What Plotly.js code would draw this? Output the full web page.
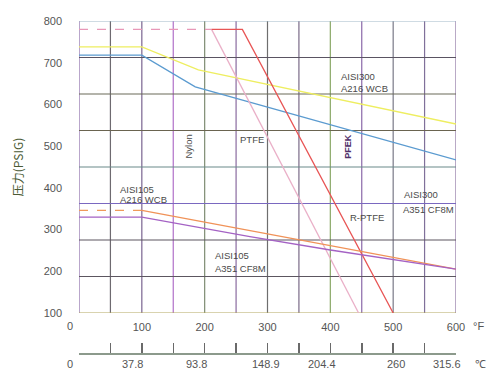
<!DOCTYPE html>
<html>
<head>
<meta charset="utf-8">
<script src="https://cdn.plot.ly/plotly-3.0.1.min.js"></script>
<style>html,body{margin:0;padding:0;background:#fff;}#chart{width:500px;height:383px;}</style>
</head>
<body>
<div id="chart"></div>
<script>
// ---- data (temperature °F, pressure PSIG) ----
const yellowF = [0, 100, 190, 600];
const yellowP = [738, 738, 683, 553];
const blueF = [0, 100, 185, 400, 600];
const blueP = [718, 718, 642, 551, 467];
const ptfeDashF = [0, 211];
const ptfeDashP = [780, 780];
const ptfeF = [211, 445];
const ptfeP = [780, 100];
const rptfeF = [211, 260, 500];
const rptfeP = [780, 780, 100];
const orangeDashF = [0, 100];
const orangeDashP = [346, 346];
const orangeF = [100, 600];
const orangeP = [346, 205];
const purpleF = [0, 100, 272, 400, 600];
const purpleP = [330, 330, 283, 251, 205];

const fTicks = [100, 200, 300, 400, 500, 600];
const fTickText = ['100', '200', '300', '400', '500', '600'];
const cTickF = [0, 100, 200, 300, 400, 500, 600];
const cTickText = ['0', '37.8', '93.8', '148.9', '204.4', '260', '315.6'];
const cLabelShift = [-9, -9, -8, -2, -8, 3, -9];
const pTicks = [100, 200, 300, 400, 500, 600, 700, 800];
const vGridF = [0, 50, 100, 150, 200, 250, 300, 350, 400, 450, 500, 550, 600];
const vGridColor = ['#8a6aa8', '#6e6a70', '#7a6490', '#b070c8', '#7e8c72', '#8a6aa0', '#6e6e6e', '#7a6a88', '#8aa868', '#8a68a8', '#7a7a88', '#80709a', '#8a70a0'];
const hGridP = [100, 187.5, 275, 362.5, 450, 537.5, 625, 712.5, 800];
const hGridColor = ['#b4a860', '#5c5660', '#5c5660', '#7a68c0', '#6a8a8a', '#6a6450', '#6a6a58', '#5a5462', '#a0b8c8'];

const FONT = 'Liberation Sans, Arial, sans-serif';

function line(x, y, color, dash, xaxis) {
  return {x: x, y: y, type: 'scatter', mode: 'lines', hoverinfo: 'skip', showlegend: false,
    xaxis: xaxis || 'x', yaxis: 'y',
    line: {color: color, width: 1.3, dash: dash || 'solid'}};
}

const traces = [
  line(yellowF, yellowP, '#eeee60'),
  line(blueF, blueP, '#5b9bd0'),
  line(ptfeDashF, ptfeDashP, '#e898b8', 'dash'),
  line(ptfeF, ptfeP, '#eab0c8'),
  line(rptfeF, rptfeP, '#e85555'),
  line(orangeDashF, orangeDashP, '#f09a5a', 'dash'),
  line(orangeF, orangeP, '#f09258'),
  line(purpleF, purpleP, '#a462c4'),
  line(cTickF, cTickF.map(() => null), 'rgba(0,0,0,0)', 'solid', 'x2')
];

const shapes = [];
vGridF.forEach((f, i) => shapes.push({type: 'line', layer: 'below', xref: 'x', yref: 'y',
  x0: f, x1: f, y0: 100, y1: 800, line: {color: vGridColor[i], width: 1.2}}));
hGridP.forEach((p, i) => shapes.push({type: 'line', layer: 'below', xref: 'x', yref: 'y',
  x0: 0, x1: 600, y0: p, y1: p, line: {color: hGridColor[i], width: 1.2}}));

const labelFont = {family: FONT, size: 9.5, color: '#4a4a4a'};
function lab(text, x, y, anchor, extra) {
  return Object.assign({text: text, x: x, y: y, xref: 'x', yref: 'y', showarrow: false,
    xanchor: anchor || 'left', yanchor: 'middle', font: labelFont}, extra || {});
}

const annotations = [
  lab('AISI300', 414, 666),
  lab('A216 WCB', 414, 639),
  lab('AISI105', 62, 396),
  lab('A216 WCB', 62, 371),
  lab('AISI105', 213, 237),
  lab('A351 CF8M', 213, 206),
  lab('AISI300', 514, 385),
  lab('A351 CF8M', 512, 349),
  lab('PTFE', 276, 515, 'center'),
  lab('R-PTFE', 458, 328, 'center'),
  lab('Nylon', 175, 499, 'center', {textangle: -90}),
  lab('PFEK', 427, 499, 'center', {textangle: -90, font: {family: FONT, size: 9, color: '#50306a', weight: 'bold'}}),
  {text: '0', x: 0, xshift: -9, y: 0.082, xref: 'x', yref: 'paper', showarrow: false,
    xanchor: 'center', yanchor: 'middle', font: {family: FONT, size: 11, color: '#555'}},
  {text: '°F', x: 1.061, y: 0.081, xref: 'paper', yref: 'paper', showarrow: false,
    xanchor: 'center', yanchor: 'middle', font: {family: FONT, size: 11, color: '#555'}},
  {text: '℃', x: 1.064, y: -0.033, xref: 'paper', yref: 'paper', showarrow: false,
    xanchor: 'center', yanchor: 'middle', font: {family: FONT, size: 11, color: '#555'}}
];
cTickF.forEach((f, i) => annotations.push({text: cTickText[i], x: f, xshift: cLabelShift[i],
  y: -0.033, xref: 'x', yref: 'paper', showarrow: false, xanchor: 'center', yanchor: 'middle',
  font: {family: FONT, size: 11, color: '#555'}}));

const layout = {
  width: 500, height: 383,
  margin: {l: 79, r: 44, t: 21, b: 30, pad: 0},
  paper_bgcolor: '#ffffff', plot_bgcolor: '#ffffff',
  showlegend: false,
  font: {family: FONT, size: 11, color: '#555'},
  xaxis: {range: [0, 600], anchor: 'y', showgrid: false, zeroline: false, showline: false,
    ticks: '', tickvals: fTicks, ticktext: fTickText, ticklabelstandoff: 6,
    tickfont: {family: FONT, size: 11, color: '#555'}, fixedrange: true},
  xaxis2: {range: [0, 600], overlaying: 'x', anchor: 'free', position: 0, side: 'bottom',
    showgrid: false, zeroline: false, showline: true, linecolor: '#8c9a8c', linewidth: 1.5,
    ticks: 'inside', ticklen: 10, tickwidth: 1.5, tickcolor: '#6a6a6a',
    tickvals: vGridF, showticklabels: false, fixedrange: true},
  yaxis: {range: [100, 800], domain: [0.1205, 1], anchor: 'x', showgrid: false, zeroline: false,
    showline: false, ticks: '', tickvals: pTicks, ticklabelstandoff: 16,
    tickfont: {family: FONT, size: 11, color: '#555'},
    title: {text: '压力(PSIG)', standoff: 17, font: {family: 'Noto Sans CJK SC, ' + FONT, size: 12, color: '#4a5a34'}},
    fixedrange: true},
  shapes: shapes,
  annotations: annotations
};

Plotly.newPlot('chart', traces, layout, {displayModeBar: false, staticPlot: true});
</script>
</body>
</html>
